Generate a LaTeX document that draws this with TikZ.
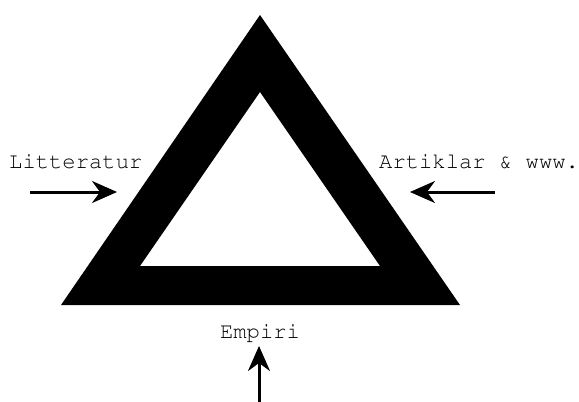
\documentclass[tikz,border=0pt]{standalone}
\usepackage[T1]{fontenc}
\usepackage{courier}
\usetikzlibrary{arrows.meta}
\tikzset{
  lbl/.style={font=\ttfamily\fontsize{22.2}{26}\selectfont,inner sep=0pt},
  inarrow/.style={line width=3pt,-{Stealth[length=25pt,width=22pt,inset=8pt]}}
}
\begin{document}
\begin{tikzpicture}[x=1pt,y=-1pt]
        \useasboundingbox (0,0) rectangle (579,402);
        % frame of the triangle
        \fill[black,even odd rule] (260,15)--(460,305)--(61,305)--cycle
          (260,92)--(140,266)--(380,266)--cycle;
        \node[lbl,anchor=base west] (lit) at (9,168){Litteratur};
        \node[lbl,anchor=base west] (art) at (379,168){Artiklar \& www.};
        \node[lbl,anchor=base] (emp) at (260,338){Empiri};
        \coordinate (litS) at (30,192);  \coordinate (litE) at (117,192);
        \coordinate (artS) at (495,192); \coordinate (artE) at (410,192);
        \coordinate (empS) at (259,402); \coordinate (empE) at (259,346);
        \draw[inarrow] (litS)--(litE);
        \draw[inarrow] (artS)--(artE);
        \draw[inarrow] (empS)--(empE);
      \end{tikzpicture}
\end{document}
